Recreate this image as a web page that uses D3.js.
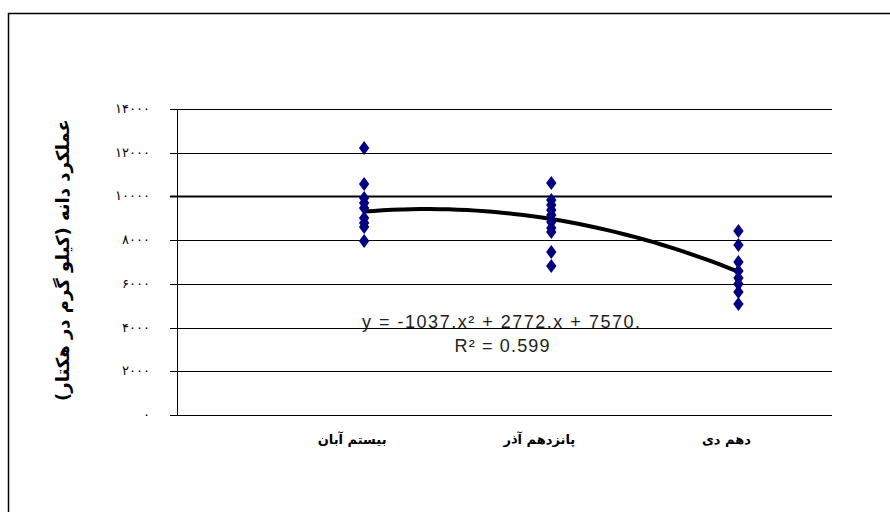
<!DOCTYPE html>
<html><head><meta charset="utf-8">
<script src="https://cdn.jsdelivr.net/npm/d3@7"></script>
<style>body{margin:0;background:#fff}svg{display:block}</style>
</head><body>
<svg id="c" width="890" height="512"></svg>
<script>
const categories = ["بیستم آبان", "پانزدهم آذر", "دهم دی"];
const series1 = [12215, 10568, 9928, 9700, 9470, 9013, 8784, 8600, 7960];
const series2 = [10614, 9836, 9608, 9379, 9150, 8830, 8555, 8372, 7457, 6817];
const series3 = [8418, 7777, 7000, 6588, 6268, 5993, 5627, 5078];
const yTicks = [0, 2000, 4000, 6000, 8000, 10000, 12000, 14000];
const trendCoef = [-1037, 2772, 7570];
const eqText = "y = -1037.x² + 2772.x + 7570.";
const r2Text = "R² = 0.599";
const yTitle = "عملکرد دانه (کیلو گرم در هکتار)";

const svg = d3.select("#c");
const L = 177, R = 832, T = 109, B = 415;
const x = d3.scaleLinear().domain([0, 3.5]).range([L, R]);
const y = d3.scaleLinear().domain([0, 14000]).range([B, T]);

// outer border
svg.append("path").attr("d", `M8.5,512 L8.5,13.5 L890,13.5`).attr("fill","none").attr("stroke","#000").attr("stroke-width",1.5);

const fa = n => String(n).replace(/\d/g, d => "۰۱۲۳۴۵۶۷۸۹"[d]);

// gridlines
svg.append("g").selectAll("line").data(yTicks).join("line")
  .attr("x1", L - 7).attr("x2", R)
  .attr("y1", d => Math.round(y(d)) + 0.5).attr("y2", d => Math.round(y(d)) + 0.5)
  .attr("stroke", "#000").attr("stroke-width", d => d === 10000 ? 2 : 1);

// y axis line
svg.append("line").attr("x1", L + 0.5).attr("x2", L + 0.5).attr("y1", T).attr("y2", B + 1).attr("stroke", "#000");

// y tick labels
svg.append("g").selectAll("text").data(yTicks).join("text")
  .attr("x", 150).attr("y", d => y(d) + 4)
  .attr("text-anchor", "end").attr("direction", "ltr")
  .attr("font-family", "DejaVu Sans, sans-serif").attr("font-size", 13).attr("letter-spacing", 2.5).attr("fill", "#000")
  .text(d => fa(d));

// y title
svg.append("text").attr("transform", `translate(69,${(T + B) / 2 - 2}) rotate(-90)`)
  .attr("text-anchor", "middle").attr("direction", "rtl")
  .attr("font-family", "DejaVu Sans, sans-serif").attr("font-weight", "bold").attr("font-size", 18)
  .text(yTitle);

// category labels
svg.append("g").selectAll("text").data(categories).join("text")
  .attr("x", (d, i) => x(i + 1) - 12).attr("y", 444)
  .attr("text-anchor", "middle").attr("direction", "rtl")
  .attr("font-family", "DejaVu Sans, sans-serif").attr("font-weight", "bold").attr("font-size", 13)
  .text(d => d);

// trendline
const f = t => trendCoef[0] * t * t + trendCoef[1] * t + trendCoef[2];
const tPts = d3.range(1, 3.0001, 0.05).map(t => [t, f(t)]);
svg.append("path").datum(tPts)
  .attr("d", d3.line().x(d => x(d[0])).y(d => y(d[1])).curve(d3.curveMonotoneX))
  .attr("fill", "none").attr("stroke", "#000").attr("stroke-width", 4);

// points
const sym = d3.symbol().type(d3.symbolDiamond).size(55);
[series1, series2, series3].forEach((s, i) => {
  svg.append("g").selectAll("path").data(s).join("path")
    .attr("transform", d => `translate(${x(i + 1)},${y(d)}) scale(1.3,1)`)
    .attr("d", sym).attr("fill", "#000080");
});

// equation
svg.append("text").attr("x", 501).attr("y", 328).attr("text-anchor", "middle")
  .attr("font-family", "Liberation Sans, Arial, sans-serif").attr("font-size", 18).attr("fill", "#222")
  .attr("textLength", 278).attr("lengthAdjust", "spacing")
  .attr("direction", "ltr").text(eqText);
svg.append("text").attr("x", 502).attr("y", 352).attr("text-anchor", "middle")
  .attr("font-family", "Liberation Sans, Arial, sans-serif").attr("font-size", 18).attr("fill", "#222")
  .attr("textLength", 95).attr("lengthAdjust", "spacing")
  .attr("direction", "ltr").text(r2Text);
</script>
</body></html>
